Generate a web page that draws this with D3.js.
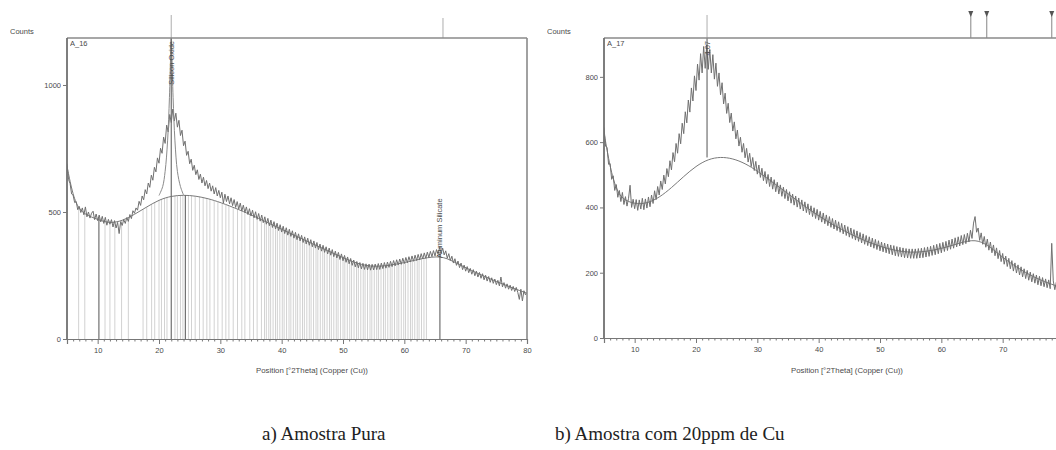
<!DOCTYPE html>
<html><head><meta charset="utf-8">
<script src="https://cdn.jsdelivr.net/npm/d3@7"></script>
<style>body{margin:0;background:#fff}svg{display:block}svg text{opacity:0.999}</style>
</head><body>
<svg id="c" width="1056" height="450"></svg>
<script>
// ---------- DATA ----------
const thetaStart = 5, thetaStep = 0.25; // measured 2Theta grid (5 .. 80)

const countsA16 = [
690,628,612,571,566,537,541,509,522,498,516,489,520,481,500,476,495,503,470,492,
466,488,461,483,455,479,448,471,452,470,441,466,437,459,415,462,447,470,455,478,
463,490,474,505,495,516,507,542,526,563,548,588,571,614,597,645,625,676,658,713,
692,751,731,795,770,842,815,884,852,905,858,889,834,861,801,822,761,779,723,739,
690,708,664,684,647,666,628,649,614,637,603,624,592,614,582,603,571,596,563,585,
556,578,535,570,541,563,532,556,525,549,518,541,511,535,504,527,498,520,490,513,
484,507,477,501,471,494,464,488,458,481,452,475,446,468,439,462,433,456,427,450,
421,444,415,438,409,432,404,426,397,420,391,414,386,408,380,402,374,397,369,391,
363,386,358,380,352,374,346,369,341,363,335,358,330,352,324,346,319,341,313,335,
308,329,302,323,296,317,290,311,284,305,280,301,276,298,274,296,272,295,271,294,
272,295,273,297,274,299,277,301,279,303,282,306,285,309,288,312,291,315,294,318,
297,321,300,324,303,327,306,330,309,333,312,336,315,339,318,342,321,345,324,348,
327,352,334,360,338,358,331,347,318,336,309,326,299,316,290,307,281,299,273,291,
267,285,261,278,255,273,249,267,244,262,239,257,233,251,228,246,223,241,219,236,
214,231,209,244,205,222,200,217,196,212,191,207,187,203,183,156,196,150,190,174,
184];

const countsA17 = [
645,588,583,532,534,486,497,452,470,431,452,418,446,409,433,404,428,468,400,425,
396,424,391,423,395,428,393,426,398,432,402,438,412,451,424,464,438,481,455,499,
472,519,494,543,515,568,540,596,566,626,595,658,626,693,659,729,692,766,726,803,
758,839,790,871,812,893,826,898,823,884,812,868,793,842,771,812,745,782,717,750,
688,719,660,689,634,662,610,637,588,615,569,596,552,581,539,566,525,553,513,541,
502,530,492,520,482,510,473,501,464,493,456,485,448,477,441,469,434,462,427,455,
420,448,413,441,407,435,401,429,395,423,389,417,384,411,378,405,372,399,366,394,
361,388,355,383,350,377,344,372,339,366,334,361,329,356,324,351,319,346,314,341,
309,337,305,332,300,328,296,323,291,319,287,314,283,310,279,306,275,302,271,298,
267,294,264,291,261,288,258,285,255,283,252,280,250,278,248,276,246,274,245,273,
244,273,244,273,244,274,245,275,246,277,248,279,250,281,253,284,255,287,258,290,
261,293,265,296,268,300,272,303,275,307,279,310,282,314,286,317,289,321,294,330,
305,352,372,324,337,299,322,287,311,278,303,269,294,261,285,252,276,243,268,234,
259,226,251,219,244,212,237,205,230,199,224,193,218,187,212,182,207,177,202,172,
197,168,193,163,189,160,185,157,181,154,178,151,290,175,148,171,146,169,144,167,
149];

// fitted amorphous backgrounds (2Theta, counts)
const bgA16X = [5,6,7,8,10,12,14,16,18,20,22,24,26,28,30,33,36,40,45,50,53,56,60,63,66,68,70,75,80];
const bgA16Y = [680,560,510,490,470,455,465,490,520,548,563,567,563,553,538,510,478,432,375,320,290,283,300,318,328,305,280,225,180];
const bgA17X = [5,6,7,8,10,12,14,16,18,20,22,24,26,28,30,33,36,40,45,50,55,60,64,66,68,70,75,80];
const bgA17Y = [630,520,455,425,410,412,430,460,495,527,548,555,550,535,512,470,428,372,318,278,257,272,298,300,280,245,183,152];

// calculated Silicon Oxide profile (A_16)
const profileX = [20.0,20.6,21.0,21.4,21.7,21.9,22.0,22.1,22.3,22.6,23.0,23.5,24.0];
const profileY = [565,600,660,780,950,1120,1200,1120,950,780,660,600,567];

// reference pattern sticks (A_16)
const sticksLight = [6.9,7.9,11.2,12.0,12.8,13.9,15.0,17.4,18.0,18.8,19.3,20.0,20.4,20.9,21.3,
  22.6,23.0,23.5,23.9,24.8,25.3,25.9,26.6,27.2,27.8,28.3,29.0,29.6,30.3,30.9,31.4,32.1,32.8,
  33.5,34.0,34.8,35.4,36.0,36.7,37.2,37.5,37.9,38.2,38.6,39.0,39.3,39.7,40.1,40.4,40.8,41.2,
  41.5,41.9,42.3,42.6,43.0,43.4,43.7,44.1,44.5,44.8,45.2,45.6,45.9,46.3,46.7,47.0,47.4,47.8,
  48.1,48.5,48.9,49.2,49.6,50.0,50.3,50.7,51.1,51.4,51.8,52.2,52.5,52.9,53.3,53.6,54.0,54.4,
  54.7,55.1,55.5,55.8,56.2,56.6,56.9,57.3,57.7,58.0,58.4,58.8,59.1,59.5,59.9,60.2,60.6,61.0,
  61.3,61.7,62.1,62.4,62.8,63.2,63.6];
const sticksDarkX = [10.2, 22.0, 24.3, 65.8];
const sticksDarkY = [478, 1185, 567, 338];

const topMarksA16 = [22.0, 66.3];
const topMarksA17 = [21.8, 64.8, 67.4, 78.0];

const xTicksA16 = [10,20,30,40,50,60,70,80];
const xTicksA17 = [10,20,30,40,50,60,70];
const yTicksA16 = [0,500,1000];
const yTicksA17 = [0,200,400,600,800];

const peakLabelA16 = ["Silicon Oxide", 22.0];
const peakLabelA16b = ["Aluminum Silicate", 65.8];
const peakLabelA17 = ["4.07", 21.8];

const captions = ["a) Amostra Pura", "b) Amostra com 20ppm de Cu"];

// ---------- DRAW ----------
const svg = d3.select("#c");
const font = "'Liberation Sans', Arial, sans-serif";
const txt = "#4a4a4a";
const gridX = (arr) => arr.map((v,i)=>({x: thetaStart + i*thetaStep, y: v}));

function panel(o){
  const x = d3.scaleLinear().domain([5,80]).range([o.left,o.right]);
  const y = d3.scaleLinear().domain([0,o.yMax]).range([o.bottom,o.top]);
  const g = svg.append("g");
  const clipId = "clip"+o.id;
  svg.append("clipPath").attr("id",clipId).append("rect")
    .attr("x",o.left).attr("y",o.top).attr("width",o.right-o.left).attr("height",o.bottom-o.top);
  const pg = g.append("g").attr("clip-path",`url(#${clipId})`);
  const bgFn = (t)=>{
    const i = d3.bisectRight(o.bgX,t)-1, j=Math.min(i+1,o.bgX.length-1);
    if(i<0) return o.bgY[0];
    const f = j===i?0:(t-o.bgX[i])/(o.bgX[j]-o.bgX[i]);
    return o.bgY[i]+(o.bgY[j]-o.bgY[i])*f;
  };
  if(o.sticks){
    pg.selectAll(".sl").data(o.sticks).join("line")
      .attr("x1",d=>x(d)).attr("x2",d=>x(d)).attr("y1",y(0)).attr("y2",d=>y(bgFn(d)))
      .attr("stroke","#d2d2d2").attr("stroke-width",1);
  }
  pg.append("path").datum(o.bgX.map((v,i)=>({x:v,y:o.bgY[i]})))
    .attr("d",d3.line().x(d=>x(d.x)).y(d=>y(d.y)).curve(d3.curveBasis))
    .attr("fill","none").attr("stroke","#7a7a7a").attr("stroke-width",1);
  pg.append("path").datum(gridX(o.counts))
    .attr("d",d3.line().x(d=>x(d.x)).y(d=>y(d.y)))
    .attr("fill","none").attr("stroke","#707070").attr("stroke-width",1);
  if(o.profile){
    pg.append("path").datum(o.profile.x.map((v,i)=>({x:v,y:o.profile.y[i]})))
      .attr("d",d3.line().x(d=>x(d.x)).y(d=>y(d.y)).curve(d3.curveCatmullRom))
      .attr("fill","none").attr("stroke","#8a8a8a").attr("stroke-width",1);
  }
  if(o.darkX){
    pg.selectAll(".sd").data(o.darkX).join("line")
      .attr("x1",d=>x(d)).attr("x2",d=>x(d)).attr("y1",y(0)).attr("y2",(d,i)=>y(o.darkY[i]))
      .attr("stroke","#707070").attr("stroke-width",1.2);
  }
  if(o.peakLine){
    pg.append("line").attr("x1",x(o.peakLine[0])).attr("x2",x(o.peakLine[0]))
      .attr("y1",o.top).attr("y2",y(o.peakLine[1])).attr("stroke","#555").attr("stroke-width",1);
  }
  g.selectAll(".tm").data(o.topMarks).join("line")
    .attr("x1",d=>x(d)).attr("x2",d=>x(d)).attr("y1",(d,i)=>o.markTop[i]).attr("y2",o.top)
    .attr("stroke",(d,i)=>o.markTri[i]?"#999":"#bbb").attr("stroke-width",1.2);
  g.selectAll(".tri").data(o.topMarks.filter((d,i)=>o.markTri[i])).join("path")
    .attr("d",d=>`M${x(d)-2.5},${11}L${x(d)+2.5},${11}L${x(d)},${17}Z`).attr("fill","#555");
  g.append("line").attr("x1",o.left).attr("x2",o.right).attr("y1",o.top).attr("y2",o.top)
    .attr("stroke","#8a8a8a").attr("stroke-width",1.6);
  g.append("line").attr("x1",o.right).attr("x2",o.right).attr("y1",o.top).attr("y2",o.bottom)
    .attr("stroke","#8a8a8a").attr("stroke-width",1.6);
  g.append("line").attr("x1",o.left).attr("x2",o.left).attr("y1",o.top).attr("y2",o.bottom)
    .attr("stroke","#707070").attr("stroke-width",1.8);
  const xa = g.append("g").attr("transform",`translate(0,${o.bottom})`)
    .call(d3.axisBottom(x).tickValues(o.xTicks).tickSize(5).tickPadding(4).tickFormat(d3.format("d")));
  g.append("g").attr("transform",`translate(0,${o.bottom})`)
    .call(d3.axisBottom(x).tickValues(d3.range(6,81,1).filter(v=>v%10)).tickSize(2.5).tickFormat(""))
    .call(s=>s.select(".domain").remove());
  const ya = g.append("g").attr("transform",`translate(${o.left},0)`)
    .call(d3.axisLeft(y).tickValues(o.yTicks).tickSize(4).tickPadding(2).tickFormat(d3.format("d")));
  ya.select(".domain").remove();
  [xa,ya].forEach(a=>{
    a.selectAll("text").attr("font-family",font).attr("font-size",7.5).attr("fill",txt);
  });
  g.selectAll(".tick line").attr("stroke","#777");
  xa.select(".domain").attr("stroke","#777").attr("stroke-width",1.2);
  g.append("text").attr("x",o.left-57).attr("y",34).text("Counts")
    .attr("font-family",font).attr("font-size",7.5).attr("fill",txt);
  g.append("text").attr("x",o.left+3).attr("y",46).text(o.name)
    .attr("font-family",font).attr("font-size",7.5).attr("fill",txt);
  g.append("text").attr("x",o.titleX).attr("y",373)
    .attr("text-anchor","middle").text("Position [°2Theta] (Copper (Cu))")
    .attr("font-family",font).attr("font-size",7.8).attr("fill",txt);
  o.labels.forEach(l=>{
    g.append("text").attr("transform",`translate(${x(l[1])+2.5},${l[2]}) rotate(-90)`)
      .attr("text-anchor",l[3]).text(l[0])
      .attr("font-family",font).attr("font-size",7.5).attr("fill",txt);
  });
  return {x,y};
}

panel({id:"a", name:"A_16", left:67, right:527, top:38, bottom:339, yMax:1185,
  counts:countsA16, bgX:bgA16X, bgY:bgA16Y, sticks:sticksLight,
  profile:{x:profileX,y:profileY}, darkX:sticksDarkX, darkY:sticksDarkY,
  topMarks:topMarksA16, markTop:[15,18], markTri:[false,false],
  xTicks:xTicksA16, yTicks:yTicksA16, titleX:312,
  labels:[[peakLabelA16[0],peakLabelA16[1],41,"end"],[peakLabelA16b[0],peakLabelA16b[1],258,"start"]]});

panel({id:"b", name:"A_17", left:604, right:1064, top:38, bottom:338, yMax:919,
  counts:countsA17, bgX:bgA17X, bgY:bgA17Y,
  peakLine:[21.8, 553],
  topMarks:topMarksA17, markTop:[15,12,12,12], markTri:[false,true,true,true],
  xTicks:xTicksA17, yTicks:yTicksA17, titleX:847,
  labels:[[peakLabelA17[0],peakLabelA17[1],41,"end"]]});

svg.selectAll(".cap").data(captions).join("text")
  .attr("x",(d,i)=>[262,555][i]).attr("y",440).text(d=>d)
  .attr("font-family","'Liberation Serif','Times New Roman',serif").attr("font-size",19).attr("fill","#222");
</script>
</body></html>
